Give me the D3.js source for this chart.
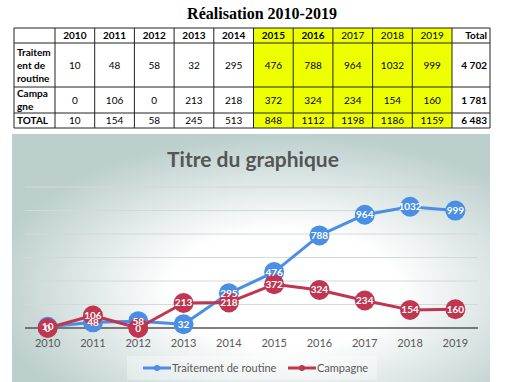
<!DOCTYPE html>
<html>
<head>
<meta charset="utf-8">
<script src="https://cdn.jsdelivr.net/npm/d3@7"></script>
<style>
  body { margin: 0; background: #fff; }
  svg { display: block; }
  .cell { font-family: Lato, "Liberation Sans", sans-serif; font-size: 10px; fill: #000; }
  .tick-label { font-family: Lato, sans-serif; font-size: 11px; fill: #595959; }
  .pt-label { font-family: Lato, sans-serif; font-size: 10px; font-weight: bold; fill: #fff; }
</style>
</head>
<body>
<script>
const years = [2010, 2011, 2012, 2013, 2014, 2015, 2016, 2017, 2018, 2019];
const routine = [10, 48, 58, 32, 295, 476, 788, 964, 1032, 999];
const campagne = [0, 106, 0, 213, 218, 372, 324, 234, 154, 160];
const totals = [10, 154, 58, 245, 513, 848, 1112, 1198, 1186, 1159];
const rowNames = [['Traitem', 'ent de', 'routine'], ['Campa', 'gne'], ['TOTAL']];
const rowTotals = ['4 702', '1 781', '6 483'];
const boldYears = [2010, 2011, 2012, 2013, 2014, 2015, 2016];
const yellowYears = [2015, 2016, 2017, 2018, 2019];
const yTicks = [0, 200, 400, 600, 800, 1000, 1200];
const seriesNames = ['Traitement de routine', 'Campagne'];

const width = 510;
const height = 382;
const BLUE = '#4a8ee6';
const RED = '#c0354f';
const YELLOW = '#eeff00';

const svg = d3.select('body').append('svg')
  .attr('width', width)
  .attr('height', height);

// ---- title
svg.append('text')
  .attr('x', 262)
  .attr('y', 19)
  .attr('text-anchor', 'middle')
  .style('font-family', '"Liberation Serif", serif')
  .style('font-weight', 'bold')
  .style('font-size', '16px')
  .text('Réalisation 2010-2019');

// ---- table
const colX = d3.scaleBand().domain(years).range([55, 452]);
const labelX0 = 14;
const totalX1 = 490;
const rowY = [28, 43, 87, 113, 128];

const table = svg.append('g').attr('class', 'table');

// yellow cells
table.selectAll('.yellow')
  .data(yellowYears)
  .enter().append('rect')
  .attr('x', d => colX(d))
  .attr('y', rowY[0])
  .attr('width', colX.bandwidth())
  .attr('height', rowY[4] - rowY[0])
  .attr('fill', YELLOW);

// grid lines
const vlines = [labelX0, ...years.map(d => colX(d)), colX(2019) + colX.bandwidth(), totalX1];
table.selectAll('.vl')
  .data(vlines)
  .enter().append('line')
  .attr('x1', d => d).attr('x2', d => d)
  .attr('y1', rowY[0]).attr('y2', rowY[4])
  .attr('stroke', '#222').attr('stroke-width', 1);
table.selectAll('.hl')
  .data(rowY)
  .enter().append('line')
  .attr('x1', labelX0).attr('x2', totalX1)
  .attr('y1', d => d).attr('y2', d => d)
  .attr('stroke', '#222').attr('stroke-width', 1);

// header
table.selectAll('.hdr')
  .data(years)
  .enter().append('text')
  .attr('class', 'cell')
  .attr('x', d => colX(d) + colX.bandwidth() / 2)
  .attr('y', (rowY[0] + rowY[1]) / 2 + 3.5)
  .attr('text-anchor', 'middle')
  .style('font-weight', d => boldYears.includes(d) ? 'bold' : 'normal')
  .text(d => d);
table.append('text')
  .attr('class', 'cell')
  .attr('x', totalX1 - 3)
  .attr('y', (rowY[0] + rowY[1]) / 2 + 3.5)
  .attr('text-anchor', 'end')
  .style('font-weight', 'bold')
  .text('Total');

// rows
[routine, campagne, totals].forEach((vals, r) => {
  const cy = (rowY[r + 1] + rowY[r + 2]) / 2 + 3.5;
  table.selectAll('.r' + r)
    .data(vals)
    .enter().append('text')
    .attr('class', 'cell')
    .attr('x', (d, i) => colX(years[i]) + colX.bandwidth() / 2)
    .attr('y', cy)
    .attr('text-anchor', 'middle')
    .text(d => d);
  table.append('text')
    .attr('class', 'cell')
    .attr('x', totalX1 - 3)
    .attr('y', cy)
    .attr('text-anchor', 'end')
    .style('font-weight', 'bold')
    .text(rowTotals[r]);
  const lines = rowNames[r];
  const lh = 13;
  table.append('text')
    .attr('class', 'cell')
    .style('font-weight', 'bold')
    .selectAll('tspan')
    .data(lines)
    .enter().append('tspan')
    .attr('x', labelX0 + 3)
    .attr('y', (d, i) => cy + (i - (lines.length - 1) / 2) * lh)
    .text(d => d);
});

// ---- chart
const defs = svg.append('defs');
const grad = defs.append('radialGradient')
  .attr('id', 'bg')
  .attr('cx', '0.57').attr('cy', '0.62')
  .attr('r', '0.62');
grad.append('stop').attr('offset', '0%').attr('stop-color', '#ffffff');
grad.append('stop').attr('offset', '38%').attr('stop-color', '#ffffff');
grad.append('stop').attr('offset', '100%').attr('stop-color', '#bccfcd');

svg.append('rect')
  .attr('x', 12).attr('y', 134)
  .attr('width', 478).attr('height', 250)
  .attr('fill', 'url(#bg)');

svg.append('text')
  .attr('x', 253)
  .attr('y', 167)
  .attr('text-anchor', 'middle')
  .style('font-family', 'Lato, sans-serif')
  .style('font-weight', 'bold')
  .style('font-size', '21px')
  .style('fill', '#555')
  .text('Titre du graphique');

const x = d3.scaleBand().domain(years).range([25, 478]);
const y = d3.scaleLinear().domain([0, 1200]).range([328, 187]);
const cx = d => x(d) + x.bandwidth() / 2;

svg.append('g')
  .selectAll('line')
  .data(yTicks.slice(1))
  .enter().append('line')
  .attr('x1', 25).attr('x2', 478)
  .attr('y1', d => y(d)).attr('y2', d => y(d))
  .attr('stroke', '#d3d8d8').attr('stroke-width', 1);

svg.append('line')
  .attr('x1', 25).attr('x2', 478)
  .attr('y1', y(0)).attr('y2', y(0))
  .attr('stroke', '#555').attr('stroke-width', 1.5);

svg.append('g')
  .selectAll('text')
  .data(years)
  .enter().append('text')
  .attr('class', 'tick-label')
  .attr('x', d => cx(d))
  .attr('y', 347)
  .attr('text-anchor', 'middle')
  .text(d => d);

const line = d3.line()
  .x((d, i) => cx(years[i]))
  .y(d => y(d));

function drawSeries(vals, color) {
  const g = svg.append('g');
  g.append('path')
    .datum(vals)
    .attr('d', line)
    .attr('fill', 'none')
    .attr('stroke', color)
    .attr('stroke-width', 3)
    .attr('stroke-linejoin', 'round');
  g.selectAll('circle')
    .data(vals)
    .enter().append('circle')
    .attr('cx', (d, i) => cx(years[i]))
    .attr('cy', d => y(d))
    .attr('r', 10)
    .attr('fill', color);
}
function drawLabels(vals) {
  svg.append('g')
    .selectAll('text')
    .data(vals)
    .enter().append('text')
    .attr('class', 'pt-label')
    .attr('x', (d, i) => cx(years[i]))
    .attr('y', d => y(d) + 3.5)
    .attr('text-anchor', 'middle')
    .text(d => d);
}
drawSeries(routine, BLUE);
drawSeries(campagne, RED);
// labels go on top of both series, as in the source chart
drawLabels(routine);
drawLabels(campagne);

// legend
const legend = svg.append('g');
legend.append('rect')
  .attr('x', 127).attr('y', 356)
  .attr('width', 250).attr('height', 24)
  .attr('fill', '#fff').attr('opacity', 0.35);
const legX = [143, 288];
[BLUE, RED].forEach((c, i) => {
  legend.append('line')
    .attr('x1', legX[i]).attr('x2', legX[i] + 28)
    .attr('y1', 368).attr('y2', 368)
    .attr('stroke', c).attr('stroke-width', 3);
  legend.append('circle')
    .attr('cx', legX[i] + 14).attr('cy', 368).attr('r', 3)
    .attr('fill', c);
  legend.append('text')
    .attr('class', 'tick-label')
    .attr('x', legX[i] + 29)
    .attr('y', 372)
    .text(seriesNames[i]);
});
</script>
</body>
</html>
